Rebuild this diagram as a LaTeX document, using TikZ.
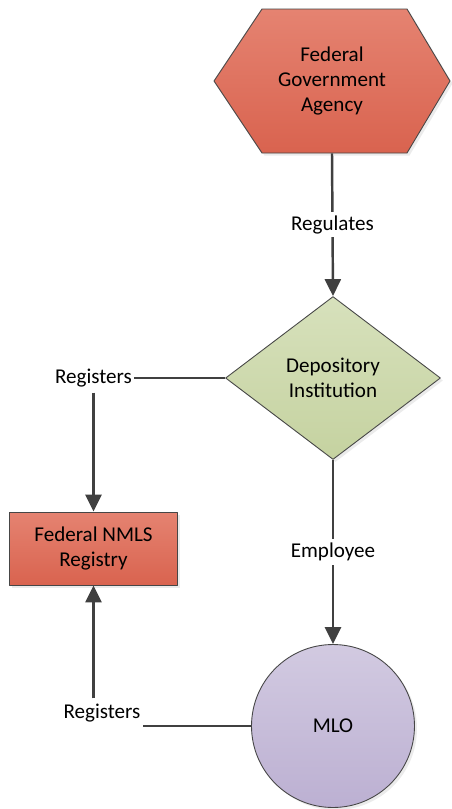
\documentclass[tikz,border=0pt]{standalone}
\usepackage{fontspec}
\setmainfont{Carlito}
\usetikzlibrary{shapes.geometric,arrows.meta,positioning,shadows}
\definecolor{redtop}{RGB}{229,131,113}
\definecolor{redbot}{RGB}{217,99,79}
\definecolor{greentop}{RGB}{215,225,188}
\definecolor{greenbot}{RGB}{197,210,160}
\definecolor{purptop}{RGB}{210,202,225}
\definecolor{purpbot}{RGB}{188,176,210}
\definecolor{edgegray}{RGB}{70,70,70}
\definecolor{linegray}{RGB}{64,64,64}

\begin{document}
\begin{tikzpicture}[x=0.02cm,y=-0.02cm,line join = round,
	every node/.style={font=\fontsize{12}{14.2}\selectfont,align=center},
	shapebox/.style={draw=edgegray,line width=0.5pt,inner sep=0pt,
		drop shadow={shadow xshift=0.05cm,shadow yshift=-0.05cm,fill=black!15}},
	redfill/.style={top color=redtop,bottom color=redbot},
	flow/.style={draw=linegray,line width=1.4pt,-{Triangle[length=0.34cm,width=0.32cm]}},
	plain/.style={draw=linegray,line width=1.2pt},
	tag/.style={fill=white,inner sep=2pt},
	sidetag/.style={inner xsep=1pt,inner ysep=3pt}]
	\fill[white] (0,0) rectangle (451,809);
	\useasboundingbox (0,0) rectangle (451,809);
	% shapes
	\path[shapebox,redfill] (262,9) -- (407,9) -- (450,81) -- (407,153) -- (262,153) -- (214,81) -- cycle;
	\node[inner sep=0pt,minimum width=4.72cm,minimum height=2.88cm] (agency) at (332,81) {Federal\\Government\\Agency};
	\node[shapebox,diamond,top color=greentop,bottom color=greenbot,minimum width=4.3cm,minimum height=3.26cm] (depository) at (333,378) {Depository\\Institution};
	\node[shapebox,rectangle,redfill,minimum width=3.36cm,minimum height=1.46cm] (nmls) at (93.5,548.5) {Federal NMLS\\Registry};
	\node[shapebox,circle,top color=purptop,bottom color=purpbot,minimum size=3.26cm] (mlo) at (333,726) {MLO};
	% labels
	\node[sidetag] (regtop) at (93.5,378) {Registers};
	\node[sidetag] (regbot) at (102,713) {Registers};
	% connectors
	\draw[flow] (agency.south) -- (depository.north) node[tag,midway] (regulates) {Regulates};
	\draw[flow] (depository.south) -- (mlo.north) node[tag,midway] (employee) {Employee};
	\draw[plain] (depository.west) -- (regtop.east);
	\draw[flow] (regtop.south) -- (nmls.north);
	\draw[plain] (mlo.west) -- (regbot.east |- mlo.west);
	\draw[flow] (nmls.south |- regbot.north) -- (nmls.south);
\end{tikzpicture}
\end{document}
